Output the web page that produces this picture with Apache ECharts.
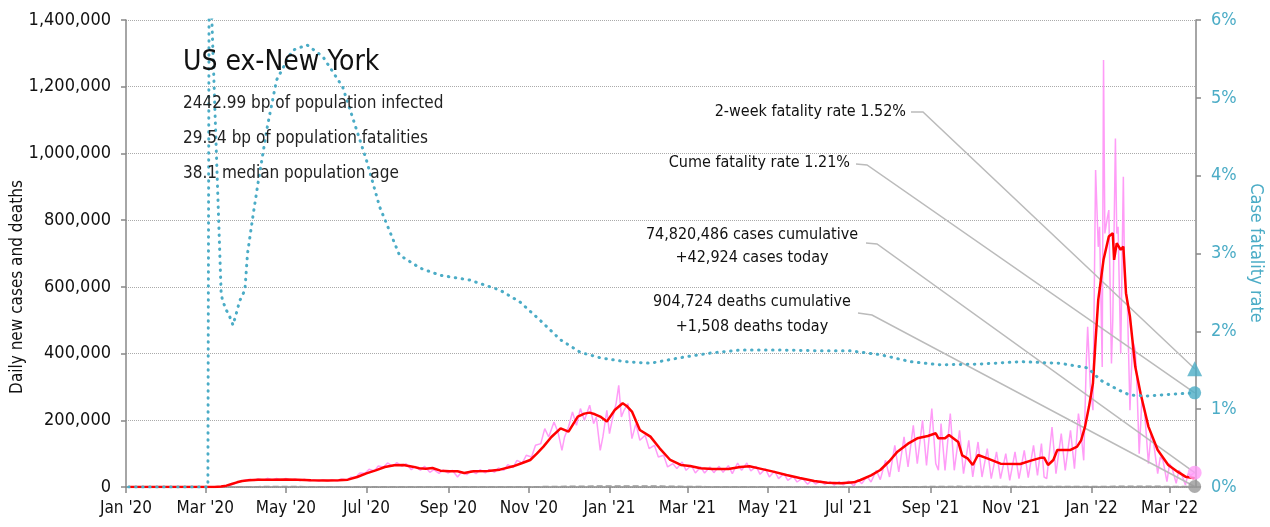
<!DOCTYPE html>
<html>
<head>
<meta charset="utf-8">
<title>US ex-New York</title>
<script src="https://cdn.jsdelivr.net/npm/echarts@6/dist/echarts.min.js"></script>
<style>
  html, body { margin: 0; padding: 0; background: #fff; }
  #main { width: 1270px; height: 527px; }
</style>
</head>
<body>
<div id="main"></div>
<script>
var FONT = "'Liberation Sans Narrow', 'DejaVu Sans Condensed', sans-serif";
var TEAL = "#4bacc6";
var PINK = "#ff9cf7";

// daily new cases (raw, noisy)
var dailyCases = [
  ['2020-01-03', 0], ['2020-03-01', 0], ['2020-03-08', 100], ['2020-03-12', 400], ['2020-03-16', 2500],
  ['2020-03-20', 6000], ['2020-03-24', 11000], ['2020-03-28', 17000], ['2020-04-01', 21000], ['2020-04-04', 23000],
  ['2020-04-07', 19000], ['2020-04-10', 25000], ['2020-04-14', 20000], ['2020-04-17', 26000], ['2020-04-21', 21000],
  ['2020-04-24', 26000], ['2020-04-28', 20000], ['2020-05-01', 26000], ['2020-05-05', 20000], ['2020-05-08', 24000],
  ['2020-05-12', 19000], ['2020-05-15', 23000], ['2020-05-19', 18000], ['2020-05-22', 22000], ['2020-05-26', 17000],
  ['2020-05-29', 22000], ['2020-06-02', 18000], ['2020-06-05', 22000], ['2020-06-09', 18000], ['2020-06-12', 24000],
  ['2020-06-16', 21000], ['2020-06-19', 29000], ['2020-06-23', 30000], ['2020-06-26', 42000], ['2020-06-30', 41000],
  ['2020-07-03', 53000], ['2020-07-07', 48000], ['2020-07-10', 63000], ['2020-07-14', 60000], ['2020-07-17', 72000],
  ['2020-07-21', 62000], ['2020-07-24', 73000], ['2020-07-28', 62000], ['2020-07-31', 70000], ['2020-08-04', 52000],
  ['2020-08-07', 62000], ['2020-08-11', 50000], ['2020-08-14', 62000], ['2020-08-18', 44000], ['2020-08-21', 52000],
  ['2020-08-25', 41000], ['2020-08-28', 51000], ['2020-09-01', 42000], ['2020-09-04', 50000], ['2020-09-08', 30000],
  ['2020-09-11', 45000], ['2020-09-15', 37000], ['2020-09-18', 49000], ['2020-09-22', 40000], ['2020-09-25', 52000],
  ['2020-09-29', 42000], ['2020-10-02', 52000], ['2020-10-06', 44000], ['2020-10-09', 57000], ['2020-10-13', 50000],
  ['2020-10-16', 67000], ['2020-10-20', 58000], ['2020-10-23', 80000], ['2020-10-27', 72000], ['2020-10-30', 95000],
  ['2020-11-03', 90000], ['2020-11-06', 125000], ['2020-11-10', 130000], ['2020-11-13', 175000], ['2020-11-16', 150000],
  ['2020-11-20', 195000], ['2020-11-23', 165000], ['2020-11-26', 110000], ['2020-11-28', 150000], ['2020-12-01', 180000],
  ['2020-12-04', 225000], ['2020-12-07', 185000], ['2020-12-10', 235000], ['2020-12-13', 200000], ['2020-12-17', 245000],
  ['2020-12-20', 190000], ['2020-12-22', 210000], ['2020-12-25', 110000], ['2020-12-27', 150000], ['2020-12-30', 230000],
  ['2021-01-01', 160000], ['2021-01-03', 200000], ['2021-01-06', 250000], ['2021-01-08', 305000], ['2021-01-10', 210000],
  ['2021-01-12', 230000], ['2021-01-15', 250000], ['2021-01-18', 145000], ['2021-01-21', 190000], ['2021-01-24', 140000],
  ['2021-01-28', 155000], ['2021-01-31', 115000], ['2021-02-04', 125000], ['2021-02-07', 90000], ['2021-02-11', 95000],
  ['2021-02-14', 60000], ['2021-02-18', 70000], ['2021-02-21', 55000], ['2021-02-25', 75000], ['2021-02-28', 50000],
  ['2021-03-04', 65000], ['2021-03-07', 42000], ['2021-03-11', 60000], ['2021-03-14', 42000], ['2021-03-18', 60000],
  ['2021-03-21', 43000], ['2021-03-25', 62000], ['2021-03-28', 44000], ['2021-04-01', 64000], ['2021-04-04', 40000],
  ['2021-04-08', 72000], ['2021-04-11', 50000], ['2021-04-15', 72000], ['2021-04-18', 48000], ['2021-04-22', 62000],
  ['2021-04-25', 38000], ['2021-04-29', 55000], ['2021-05-02', 30000], ['2021-05-06', 48000], ['2021-05-09', 25000],
  ['2021-05-13', 40000], ['2021-05-16', 20000], ['2021-05-20', 32000], ['2021-05-23', 15000], ['2021-05-27', 26000],
  ['2021-05-31', 8000], ['2021-06-03', 20000], ['2021-06-06', 9000], ['2021-06-10', 18000], ['2021-06-13', 8000],
  ['2021-06-17', 16000], ['2021-06-20', 6000], ['2021-06-24', 16000], ['2021-06-27', 6000], ['2021-07-01', 18000],
  ['2021-07-05', 3000], ['2021-07-08', 22000], ['2021-07-11', 10000], ['2021-07-15', 32000], ['2021-07-18', 15000],
  ['2021-07-22', 50000], ['2021-07-25', 22000], ['2021-07-29', 80000], ['2021-08-01', 30000], ['2021-08-05', 125000],
  ['2021-08-08', 45000], ['2021-08-12', 150000], ['2021-08-15', 60000], ['2021-08-19', 185000], ['2021-08-22', 70000],
  ['2021-08-26', 200000], ['2021-08-29', 65000], ['2021-09-02', 235000], ['2021-09-05', 70000], ['2021-09-07', 50000],
  ['2021-09-09', 190000], ['2021-09-12', 50000], ['2021-09-16', 220000], ['2021-09-19', 50000], ['2021-09-23', 170000],
  ['2021-09-26', 40000], ['2021-09-30', 140000], ['2021-10-03', 30000], ['2021-10-07', 135000], ['2021-10-10', 30000],
  ['2021-10-14', 115000], ['2021-10-17', 25000], ['2021-10-21', 105000], ['2021-10-24', 25000], ['2021-10-28', 100000],
  ['2021-10-31', 20000], ['2021-11-04', 105000], ['2021-11-07', 25000], ['2021-11-11', 110000], ['2021-11-14', 28000],
  ['2021-11-18', 125000], ['2021-11-21', 35000], ['2021-11-24', 130000], ['2021-11-26', 30000], ['2021-11-28', 25000],
  ['2021-12-02', 180000], ['2021-12-05', 40000], ['2021-12-09', 160000], ['2021-12-12', 50000], ['2021-12-16', 170000],
  ['2021-12-19', 55000], ['2021-12-22', 220000], ['2021-12-24', 160000], ['2021-12-26', 80000], ['2021-12-28', 380000],
  ['2021-12-29', 480000], ['2021-12-31', 300000], ['2022-01-02', 230000], ['2022-01-04', 950000], ['2022-01-06', 720000],
  ['2022-01-07', 780000], ['2022-01-09', 360000], ['2022-01-10', 1280000], ['2022-01-11', 760000], ['2022-01-13', 810000],
  ['2022-01-14', 830000], ['2022-01-16', 370000], ['2022-01-17', 500000], ['2022-01-19', 1045000], ['2022-01-20', 760000],
  ['2022-01-21', 780000], ['2022-01-23', 400000], ['2022-01-25', 930000], ['2022-01-26', 620000], ['2022-01-28', 560000],
  ['2022-01-30', 230000], ['2022-02-01', 440000], ['2022-02-03', 410000], ['2022-02-04', 340000], ['2022-02-06', 100000],
  ['2022-02-08', 260000], ['2022-02-10', 230000], ['2022-02-13', 70000], ['2022-02-15', 160000], ['2022-02-17', 130000],
  ['2022-02-20', 40000], ['2022-02-22', 90000], ['2022-02-24', 80000], ['2022-02-27', 16000], ['2022-03-01', 70000],
  ['2022-03-03', 55000], ['2022-03-06', 11000], ['2022-03-08', 50000], ['2022-03-10', 40000], ['2022-03-13', 6000],
  ['2022-03-15', 40000], ['2022-03-17', 35000], ['2022-03-20', 42924]
];

// 7-day average of new cases
var avgCases = [
  ['2020-01-03', 0], ['2020-03-01', 0], ['2020-03-08', 300], ['2020-03-13', 1500], ['2020-03-17', 4000],
  ['2020-03-21', 9000], ['2020-03-25', 14000], ['2020-03-29', 18000], ['2020-04-03', 20500], ['2020-04-10', 21500],
  ['2020-04-20', 21500], ['2020-05-01', 22500], ['2020-05-10', 21500], ['2020-05-20', 20000], ['2020-06-01', 19500],
  ['2020-06-10', 20500], ['2020-06-17', 22000], ['2020-06-24', 30000], ['2020-07-01', 41000], ['2020-07-08', 50000],
  ['2020-07-15', 60000], ['2020-07-22', 65000], ['2020-07-29', 66000], ['2020-08-05', 61000], ['2020-08-10', 56000],
  ['2020-08-15', 55000], ['2020-08-20', 57000], ['2020-08-26', 49000], ['2020-09-02', 47000], ['2020-09-08', 47000],
  ['2020-09-13', 42000], ['2020-09-20', 47000], ['2020-10-01', 48000], ['2020-10-10', 52000], ['2020-10-20', 62000],
  ['2020-10-27', 72000], ['2020-11-02', 81000], ['2020-11-07', 100000], ['2020-11-12', 121000], ['2020-11-18', 150000],
  ['2020-11-25', 176000], ['2020-12-01', 166000], ['2020-12-08', 211000], ['2020-12-13', 220000], ['2020-12-17', 223000],
  ['2020-12-21', 218000], ['2020-12-25', 211000], ['2020-12-30', 196000], ['2021-01-05', 231000], ['2021-01-11', 251000],
  ['2021-01-14', 243000], ['2021-01-18', 226000], ['2021-01-24', 171000], ['2021-02-01', 151000], ['2021-02-08', 116000],
  ['2021-02-16', 81000], ['2021-02-24', 66000], ['2021-03-03', 63000], ['2021-03-11', 56000], ['2021-03-20', 54000],
  ['2021-04-01', 54000], ['2021-04-10', 60000], ['2021-04-17', 62000], ['2021-04-25', 55000], ['2021-05-05', 46000],
  ['2021-05-15', 36000], ['2021-05-25', 27000], ['2021-06-05', 18000], ['2021-06-15', 13000], ['2021-06-25', 11500],
  ['2021-07-05', 14000], ['2021-07-10', 21000], ['2021-07-18', 35000], ['2021-07-25', 51000], ['2021-08-01', 78000],
  ['2021-08-07', 106000], ['2021-08-15', 130000], ['2021-08-22', 146000], ['2021-08-30', 153000], ['2021-09-05', 161000],
  ['2021-09-07', 146000], ['2021-09-12', 146000], ['2021-09-15', 156000], ['2021-09-20', 141000], ['2021-09-22', 135000],
  ['2021-09-25', 95000], ['2021-09-29', 86000], ['2021-10-03', 66000], ['2021-10-07', 96000], ['2021-10-14', 86000],
  ['2021-10-24', 70000], ['2021-11-08', 69000], ['2021-11-16', 79000], ['2021-11-24', 88000], ['2021-11-26', 88000],
  ['2021-11-29', 66000], ['2021-12-03', 81000], ['2021-12-06', 111000], ['2021-12-16', 111000], ['2021-12-21', 121000],
  ['2021-12-24', 140000], ['2021-12-27', 181000], ['2021-12-30', 241000], ['2022-01-02', 311000], ['2022-01-04', 441000],
  ['2022-01-06', 561000], ['2022-01-10', 681000], ['2022-01-14', 751000], ['2022-01-17', 761000], ['2022-01-18', 681000],
  ['2022-01-20', 731000], ['2022-01-23', 711000], ['2022-01-25', 721000], ['2022-01-27', 581000], ['2022-01-30', 511000],
  ['2022-02-03', 361000], ['2022-02-07', 281000], ['2022-02-13', 181000], ['2022-02-20', 111000], ['2022-02-28', 66000],
  ['2022-03-07', 46000], ['2022-03-13', 31000], ['2022-03-20', 26000]
];

// daily deaths, 7-day average
var avgDeaths = [
  ['2020-01-03', 0], ['2020-03-10', 5], ['2020-03-25', 150], ['2020-04-10', 1100], ['2020-04-20', 1300],
  ['2020-05-01', 1300], ['2020-05-15', 1100], ['2020-06-01', 800], ['2020-06-20', 550], ['2020-07-05', 500],
  ['2020-07-25', 1050], ['2020-08-10', 1050], ['2020-09-01', 850], ['2020-09-20', 750], ['2020-10-10', 700],
  ['2020-11-01', 800], ['2020-11-20', 1400], ['2020-12-10', 2400], ['2021-01-12', 3300], ['2021-02-01', 3000],
  ['2021-02-20', 2000], ['2021-03-15', 1100], ['2021-04-15', 700], ['2021-05-15', 550], ['2021-06-15', 300],
  ['2021-07-10', 220], ['2021-08-01', 350], ['2021-08-25', 1100], ['2021-09-20', 1900], ['2021-10-15', 1500],
  ['2021-11-10', 1100], ['2021-12-10', 1200], ['2022-01-01', 1200], ['2022-01-25', 2200], ['2022-02-05', 2500],
  ['2022-02-25', 1800], ['2022-03-20', 1050]
];

// case fatality rate, %
var fatalityRate = [
  ['2020-01-03', 0], ['2020-03-03', 0], ['2020-03-04', 7.0], ['2020-03-13', 2.50], ['2020-03-14', 2.40],
  ['2020-03-17', 2.27], ['2020-03-19', 2.21], ['2020-03-22', 2.08], ['2020-03-25', 2.26], ['2020-03-27', 2.39],
  ['2020-03-31', 2.53], ['2020-04-02', 3.00], ['2020-04-06', 3.47], ['2020-04-10', 3.91], ['2020-04-17', 4.63],
  ['2020-04-24', 5.23], ['2020-05-06', 5.61], ['2020-05-17', 5.68], ['2020-05-29', 5.53], ['2020-06-13', 5.14],
  ['2020-07-01', 4.20], ['2020-07-11', 3.60], ['2020-07-26', 2.98], ['2020-08-11', 2.81], ['2020-08-26', 2.72],
  ['2020-09-17', 2.66], ['2020-10-10', 2.53], ['2020-10-25', 2.38], ['2020-11-09', 2.15], ['2020-11-25', 1.89],
  ['2020-12-10', 1.73], ['2020-12-25', 1.66], ['2021-01-13', 1.61], ['2021-02-01', 1.59], ['2021-02-23', 1.66],
  ['2021-03-18', 1.72], ['2021-04-10', 1.76], ['2021-05-10', 1.76], ['2021-06-10', 1.75], ['2021-07-02', 1.75],
  ['2021-07-25', 1.70], ['2021-08-17', 1.61], ['2021-09-08', 1.57], ['2021-10-09', 1.58], ['2021-11-08', 1.61],
  ['2021-12-08', 1.59], ['2021-12-29', 1.53], ['2022-01-08', 1.37], ['2022-01-21', 1.25], ['2022-01-30', 1.18],
  ['2022-02-12', 1.17], ['2022-03-01', 1.19], ['2022-03-20', 1.21]
];

var lastDate = '2022-03-20';
var twoWeekRate = 1.52;
var cumeRate = 1.21;
var casesToday = 42924;
var deathsToday = 1508;

var tickDates = ['2020-01-01', '2020-03-01', '2020-05-01', '2020-07-01', '2020-09-01', '2020-11-01',
  '2021-01-01', '2021-03-01', '2021-05-01', '2021-07-01', '2021-09-01', '2021-11-01',
  '2022-01-01', '2022-03-01'];
var tickLabels = ["Jan '20", "Mar '20", "May '20", "Jul '20", "Sep '20", "Nov '20",
  "Jan '21", "Mar '21", "May '21", "Jul '21", "Sep '21", "Nov '21",
  "Jan '22", "Mar '22"];

// dates go on a plain numeric axis (ms since epoch, UTC)
function t(d) { return Date.parse(d + 'T00:00:00Z'); }
function toXY(rows) { return rows.map(function (r) { return [t(r[0]), r[1]]; }); }
var tickTimes = tickDates.map(t);
var lastT = t(lastDate);

var chart = echarts.init(document.getElementById('main'));

var option = {
  animation: false,
  backgroundColor: '#fff',
  textStyle: { fontFamily: FONT },
  grid: { left: 126, right: 74, top: 20, bottom: 40 },
  xAxis: {
    type: 'value',
    min: t('2020-01-01'),
    max: t('2022-03-21'),
    splitLine: { show: false },
    axisLine: { lineStyle: { color: '#888', width: 1.5 } },
    axisTick: { show: true, length: 6, customValues: tickTimes, lineStyle: { color: '#888', width: 1.5 } },
    axisLabel: {
      customValues: tickTimes,
      color: '#111',
      fontSize: 17,
      fontFamily: FONT,
      margin: 13,
      formatter: function (v) {
        var i = tickTimes.indexOf(+v);
        return i >= 0 ? tickLabels[i] : '';
      }
    }
  },
  yAxis: [
    {
      type: 'value',
      min: 0,
      max: 1400000,
      interval: 200000,
      position: 'left',
      axisLine: { show: true, lineStyle: { color: '#888', width: 1.5 } },
      axisTick: { show: true, length: 5, lineStyle: { color: '#888', width: 1.5 } },
      axisLabel: {
        color: '#111', fontSize: 18, fontFamily: FONT, margin: 15,
        formatter: function (v) { return v.toLocaleString('en-US'); }
      },
      splitLine: { show: true, lineStyle: { color: '#aaa', type: 'dotted', width: 1 } }
    },
    {
      type: 'value',
      min: 0,
      max: 6,
      interval: 1,
      position: 'right',
      axisLine: { show: true, lineStyle: { color: '#888', width: 1.5 } },
      axisTick: { show: true, length: 5, lineStyle: { color: '#888', width: 1.5 } },
      axisLabel: { color: TEAL, fontSize: 18, fontFamily: FONT, margin: 15, formatter: '{value}%' },
      splitLine: { show: false }
    }
  ],
  series: [
    {
      name: 'Daily cases', type: 'line', data: toXY(dailyCases), yAxisIndex: 0,
      showSymbol: false, z: 2,
      lineStyle: { color: PINK, width: 1.5 }
    },
    {
      name: 'Deaths', type: 'line', data: toXY(avgDeaths), yAxisIndex: 0,
      showSymbol: false, z: 3,
      lineStyle: { color: '#999', width: 1.5, type: 'dashed' }
    },
    {
      name: '7-day average', type: 'line', data: toXY(avgCases), yAxisIndex: 0,
      showSymbol: false, z: 4,
      lineStyle: { color: '#ff0000', width: 2.5 }
    },
    {
      name: 'Case fatality rate', type: 'line', data: toXY(fatalityRate), yAxisIndex: 1,
      showSymbol: false, z: 5, clip: true,
      lineStyle: { color: TEAL, width: 3, type: [0.5, 6.5], cap: 'round' }
    },
    {
      type: 'scatter', yAxisIndex: 0, z: 6, symbol: 'circle', symbolSize: 14,
      itemStyle: { color: PINK }, data: [[lastT, casesToday]], clip: false
    },
    {
      type: 'scatter', yAxisIndex: 0, z: 6, symbol: 'circle', symbolSize: 13,
      itemStyle: { color: '#999' }, data: [[lastT, deathsToday]], clip: false
    },
    {
      type: 'scatter', yAxisIndex: 1, z: 6, symbol: 'triangle', symbolSize: 15,
      itemStyle: { color: TEAL }, data: [[lastT, twoWeekRate]], clip: false
    },
    {
      type: 'scatter', yAxisIndex: 1, z: 6, symbol: 'circle', symbolSize: 13,
      itemStyle: { color: TEAL }, data: [[lastT, cumeRate]], clip: false
    }
  ]
};

chart.setOption(option);

function txt(text, x, y, size, align, color, extra) {
  var el = {
    type: 'text', x: x, y: y, z: 10, silent: true,
    style: {
      text: text, fill: color || '#111', font: size + 'px ' + FONT,
      textAlign: align || 'left', textVerticalAlign: 'middle'
    }
  };
  if (extra) { for (var k in extra) el[k] = extra[k]; }
  return el;
}

function leader(sx, sy, ex, ey, seriesIndex, point) {
  var end = chart.convertToPixel({ seriesIndex: seriesIndex }, point);
  return {
    type: 'polyline', z: 3, silent: true,
    shape: { points: [[sx, sy], [ex, ey], [end[0], end[1]]] },
    style: { stroke: '#bbb', lineWidth: 1.5, fill: null }
  };
}

chart.setOption({
  graphic: [
    txt('US ex-New York', 183, 63, 28, 'left', '#111'),
    txt('2442.99 bp of population infected', 183, 104, 17, 'left', '#222'),
    txt('29.54 bp of population fatalities', 183, 139, 17, 'left', '#222'),
    txt('38.1 median population age', 183, 174, 17, 'left', '#222'),
    txt('2-week fatality rate 1.52%', 906, 112, 16, 'right', '#111'),
    txt('Cume fatality rate 1.21%', 850, 163, 16, 'right', '#111'),
    txt('74,820,486 cases cumulative', 752, 235, 16, 'center', '#111'),
    txt('+42,924 cases today', 752, 258, 16, 'center', '#111'),
    txt('904,724 deaths cumulative', 752, 302, 16, 'center', '#111'),
    txt('+1,508 deaths today', 752, 327, 16, 'center', '#111'),
    txt('Daily new cases and deaths', 18, 287, 17, 'center', '#111', { rotation: Math.PI / 2 }),
    txt('Case fatality rate', 1256, 253, 18, 'center', TEAL, { rotation: -Math.PI / 2 }),
    leader(911, 112, 923, 112, 6, [lastT, twoWeekRate]),
    leader(856, 164, 867, 165, 7, [lastT, cumeRate]),
    leader(866, 243, 877, 244, 4, [lastT, casesToday]),
    leader(858, 313, 872, 315, 5, [lastT, deathsToday])
  ]
});
</script>
</body>
</html>
